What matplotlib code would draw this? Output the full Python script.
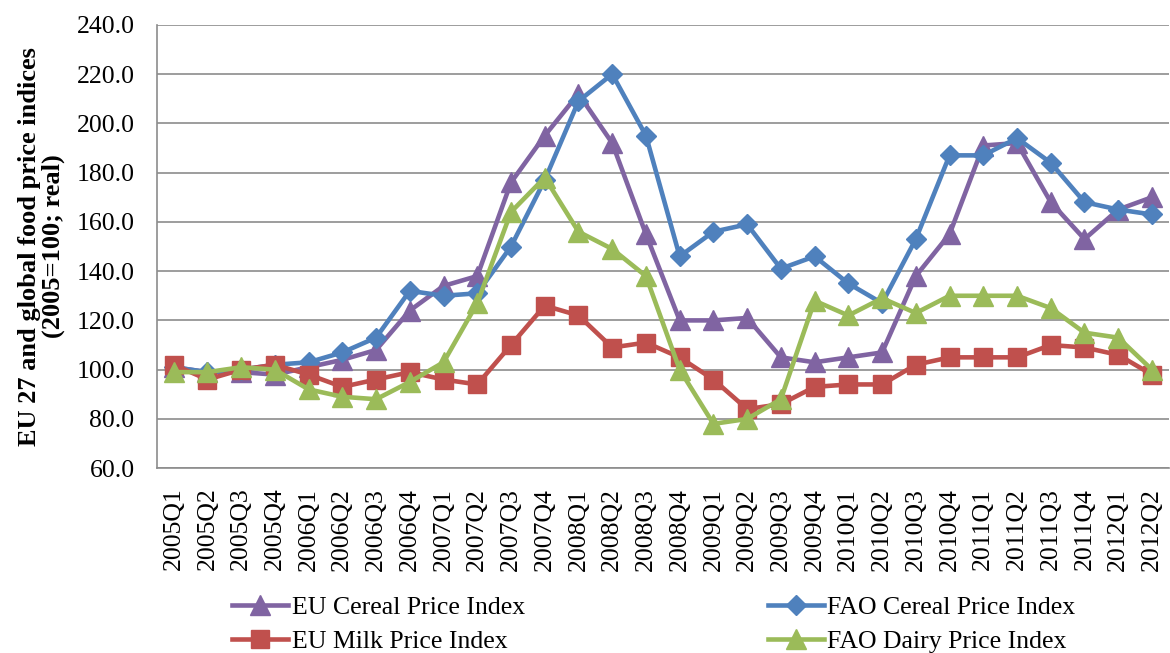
import matplotlib
matplotlib.use("Agg")
import matplotlib.pyplot as plt
from matplotlib.lines import Line2D

quarters = [f"{y}Q{q}" for y in range(2005, 2013) for q in range(1, 5)][:30]

eu_cereal = [101, 99, 99, 98, 101, 104, 108, 124, 134, 138, 176, 195, 212, 192, 155,
             120, 120, 121, 105, 103, 105, 107, 138, 155, 191, 192, 168, 153, 165, 170]
fao_cereal = [101, 99, 100, 102, 103, 107, 113, 132, 130, 131, 150, 177, 209, 220, 195,
              146, 156, 159, 141, 146, 135, 127, 153, 187, 187, 194, 184, 168, 165, 163]
eu_milk = [102, 96, 100, 102, 98, 93, 96, 99, 96, 94, 110, 126, 122, 109, 111,
           105, 96, 84, 86, 93, 94, 94, 102, 105, 105, 105, 110, 109, 106, 98]
fao_dairy = [99, 99, 101, 100, 92, 89, 88, 95, 103, 127, 164, 178, 156, 149, 138,
             100, 78, 80, 88, 128, 122, 129, 123, 130, 130, 130, 125, 115, 113, 100]

plt.rcParams['font.family'] = ['Liberation Serif', 'DejaVu Serif']
FS = 18.5

fig = plt.figure(figsize=(11.7, 6.53), dpi=100)
ax = fig.add_axes([0.134, 0.283, 0.865, 0.679])

x = list(range(len(quarters)))
series = [
    (eu_cereal, "#8064A2", "^", "EU Cereal Price Index", 14),
    (fao_cereal, "#4F81BD", "D", "FAO Cereal Price Index", 10),
    (eu_milk, "#C0504D", "s", "EU Milk Price Index", 12.5),
    (fao_dairy, "#9BBB59", "^", "FAO Dairy Price Index", 14),
]
for i, (vals, col, mk, lab, ms) in enumerate(series):
    ax.plot(x, vals, color=col, marker=mk, markersize=ms, linewidth=3.3,
            markeredgecolor=col, label=lab, zorder=3 + i)

ax.set_xlim(-0.5, len(quarters) - 0.5)
ax.set_ylim(60, 240)
ax.set_yticks(range(60, 241, 20))
ax.set_yticklabels([f"{v:.1f}" for v in range(60, 241, 20)], fontsize=FS)
ax.set_xticks(x)
ax.set_xticklabels(quarters, rotation=90, fontsize=FS)
ax.tick_params(axis='x', length=0, pad=14)
ax.tick_params(axis='y', length=0, pad=16)
ax.yaxis.grid(True, color="#8C8C8C", linewidth=1.2)
ax.set_axisbelow(True)
for s in ['top', 'right']:
    ax.spines[s].set_visible(False)
for s in ['left', 'bottom']:
    ax.spines[s].set_color("#8C8C8C")
    ax.spines[s].set_linewidth(1.2)

ax.set_ylabel("EU 27 and global food price indices\n(2005=100; real)",
              fontsize=19, fontweight='bold', linespacing=1.0)
ax.yaxis.set_label_coords(-0.091, 0.5)

def make_handle(i):
    vals, col, mk, lab, ms = series[i]
    return Line2D([0], [0], color=col, marker=mk, markersize=ms, linewidth=3.3)

leg_kw = dict(loc='upper left', ncol=1, frameon=False, fontsize=FS, handlelength=2.18,
              handletextpad=0.15, labelspacing=0.42, borderpad=0, borderaxespad=0)
leg1 = fig.legend([make_handle(0), make_handle(2)], [series[0][3], series[2][3]],
                  bbox_to_anchor=(0.198, 1 - 596 / 653), **leg_kw)
leg2 = fig.legend([make_handle(1), make_handle(3)], [series[1][3], series[3][3]],
                  bbox_to_anchor=(0.656, 1 - 596 / 653), **leg_kw)

fig.savefig("out.png", dpi=100)
